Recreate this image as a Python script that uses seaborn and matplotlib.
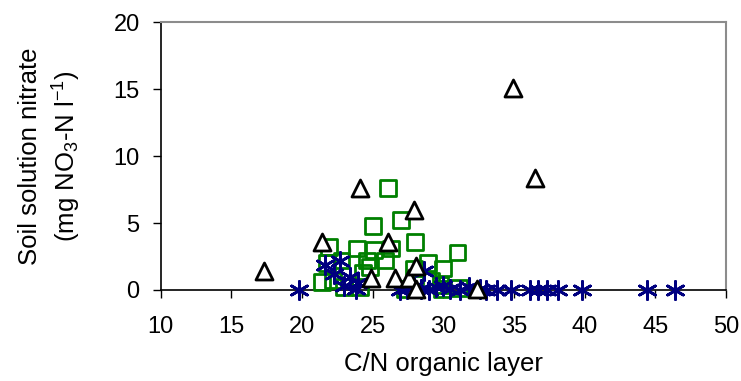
import pandas as pd
import seaborn as sns
from matplotlib import pyplot as plt

# triangles (black)
tri_x = [17.3, 21.4, 24.1, 24.9, 26.1, 26.6, 27.6, 27.9, 28.1, 28.1, 32.4, 34.9, 36.5]
tri_y = [1.4, 3.6, 7.6, 0.9, 3.6, 0.9, 0.9, 6.0, 1.8, 0.1, 0.1, 15.1, 8.4]

# squares (green)
sq_x = [21.4, 21.8, 21.9, 22.2, 22.8, 23.0, 23.9, 24.1, 24.3, 24.6, 24.8, 25.0, 25.1, 25.9,
        26.1, 26.3, 27.0, 27.3, 27.9, 28.0, 28.9, 29.1, 29.8, 30.0, 29.9, 31.0, 31.1]
sq_y = [0.6, 2.0, 3.2, 0.7, 2.2, 0.2, 3.1, 0.2, 1.3, 2.2, 1.7, 4.8, 3.0, 2.2,
        7.6, 3.1, 5.2, 0.1, 1.6, 3.6, 2.0, 0.7, 0.4, 1.6, 0.1, 2.8, 0.15]

# asterisks (navy)
ast_x = [19.8, 21.6, 22.7, 22.3, 23.4, 23.0, 23.8, 24.0, 26.9, 27.4, 27.9, 28.6, 28.4, 29.0,
         29.5, 30.0, 30.5, 31.2, 31.8, 32.6, 33.0, 33.8, 34.8, 36.1, 36.7, 37.3, 38.1, 39.8,
         44.4, 46.4]
ast_y = [0.0, 1.9, 2.2, 1.2, 1.0, 0.3, 0.1, 0.5, 0.0, 0.1, 0.2, 1.4, 0.1, 0.0,
         0.2, 0.3, 0.1, 0.0, 0.2, 0.1, 0.0, 0.0, 0.0, 0.0, 0.0, 0.0, 0.0, 0.0,
         0.0, 0.0]

sns.set_theme(style="white")
plt.rcParams["font.family"] = ["Liberation Sans", "DejaVu Sans"]
plt.rcParams["mathtext.default"] = "regular"
plt.rcParams["text.color"] = "black"
plt.rcParams["axes.labelcolor"] = "black"
plt.rcParams["xtick.color"] = "black"
plt.rcParams["ytick.color"] = "black"

fig = plt.figure(figsize=(7.41, 3.81), dpi=100)
ax = fig.add_axes([0.2166, 0.239, 0.7634, 0.702])

sns.scatterplot(x=sq_x, y=sq_y, ax=ax, marker="s", s=130, facecolor="none",
                edgecolor="#008000", linewidth=2, clip_on=False, zorder=3)
sns.scatterplot(x=ast_x, y=ast_y, ax=ax, marker=(6, 2, 0), s=170, color="#000080",
                edgecolor="#000080", linewidth=2, clip_on=False, zorder=4)
sns.scatterplot(x=tri_x, y=tri_y, ax=ax, marker="^", s=150, facecolor="white",
                edgecolor="black", linewidth=2, clip_on=False, zorder=5)

ax.set_xlim(10, 50)
ax.set_ylim(0, 20)
ax.set_xticks(range(10, 51, 5))
ax.set_yticks(range(0, 21, 5))
ax.tick_params(axis="both", labelsize=17, length=6, width=1,
               direction="out", left=True, bottom=True)
ax.tick_params(axis="x", pad=13)
ax.tick_params(axis="y", pad=9)
for side in ["left", "bottom"]:
    ax.spines[side].set_color("black")
    ax.spines[side].set_linewidth(1.2)
for side in ["top", "right"]:
    ax.spines[side].set_color("#8c8c8c")
    ax.spines[side].set_linewidth(1.5)

ax.set_xlabel("C/N organic layer", fontsize=18.5, labelpad=10)
ax.set_ylabel("Soil solution nitrate\n(mg NO$_3$-N l$^{-1}$)", fontsize=18.5, labelpad=22,
              linespacing=1.35)

plt.savefig("out.png", dpi=100)
